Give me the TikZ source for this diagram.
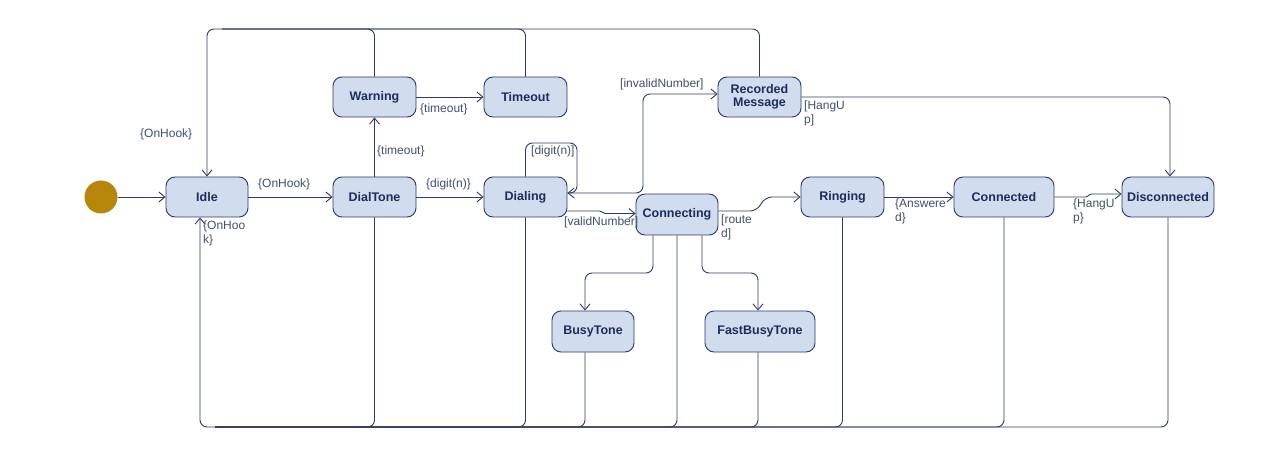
\documentclass[tikz,border=0pt]{standalone}
\usepackage{fontspec}
\setmainfont{Liberation Sans}
\usetikzlibrary{arrows.meta}
\definecolor{nfill}{HTML}{D1DCEF}
\definecolor{nbord}{HTML}{2B3A67}
\definecolor{ntext}{HTML}{1E2D5A}
\definecolor{edgec}{HTML}{2F3C5E}
\definecolor{ltext}{HTML}{3F4F70}
\definecolor{initc}{HTML}{B8860B}
\tikzset{
  st/.style={draw=nbord, fill=nfill, rounded corners=9pt, line width=0.9pt, inner sep=0pt,
    minimum height=40pt, text=ntext, font=\fontsize{12.5}{14.5}\selectfont\bfseries, align=center},
  lbl/.style={text=ltext, inner sep=0pt, font=\fontsize{12}{14}\selectfont, align=left},
  tr/.style={draw=edgec, line width=0.9pt, rounded corners=7pt, -{Straight Barb[length=6pt,width=10pt]}},
  ln/.style={draw=edgec, line width=0.9pt, rounded corners=7pt},
}
\begin{document}
\begin{tikzpicture}[x=1pt,y=-1pt]
\useasboundingbox (0,0) rectangle (1280,449);
% states
\node[circle, fill=initc, minimum size=33pt, inner sep=0pt] (init) at (101,197) {};
\node[st, minimum width=82pt] (idle) at (207,197) {Idle};
\node[st, minimum width=83pt] (dialtone) at (374.5,197) {DialTone};
\node[st, minimum width=83pt] (dialing) at (525.5,197) {Dialing};
\node[st, minimum width=83pt] (warning) at (374.5,97) {Warning};
\node[st, minimum width=83pt] (timeout) at (525.5,97) {Timeout};
\node[st, minimum width=83pt] (recmsg) at (759.5,97) {Recorded\\[-1pt]Message};
\node[st, minimum width=82pt, minimum height=41pt] (connecting) at (677,214.5) {Connecting};
\node[st, minimum width=83pt] (ringing) at (842.5,197) {Ringing};
\node[st, minimum width=100pt] (connected) at (1004,197) {Connected};
\node[st, minimum width=92pt] (disconnected) at (1168,197) {Disconnected};
\node[st, minimum width=82pt, minimum height=41pt] (busytone) at (593,331.5) {BusyTone};
\node[st, minimum width=110pt, minimum height=41pt] (fastbusy) at (760,331.5) {FastBusyTone};
% helper coordinates
\coordinate (topL) at (207,29);
\coordinate (topE) at (222,29);
\coordinate (botL) at (200,427);
\coordinate (botE) at (215,427);
% transitions
\draw[tr] (init.east) -- (idle.west);
\draw[tr] (idle.east) -- (dialtone.west);
\draw[tr] (dialtone.east) -- (dialing.west);
\draw[tr] (dialtone.north) -- (warning.south);
\draw[tr] (warning.east) -- (timeout.west);
\draw[tr] (dialing.north) -- (525.5,143) -- (577,143) -- (577,193) -- (dialing.east |- 0,193);
\draw[tr] (dialing.east |- 0,193) -- (643,193) -- (643,94) -- (recmsg.west |- 0,94);
\draw[tr, rounded corners=1.5pt] (dialing.east |- 0,211) -- (601,211) -- (604,213.5) -- (connecting.west |- 0,213.5);
\draw[tr] (connecting.east |- 0,211) -- (757,211) -- (765,197) -- (ringing.west);
\draw[tr] (ringing.east) -- (connected.west);
\draw[tr, rounded corners=1.5pt] (connected.east) -- (1087,197) -- (1090,194) -- (disconnected.west |- 0,194);
\draw[tr] (recmsg.east) -- (1170,97) -- (disconnected.north -| 1170,0);
\draw[tr] (connecting.south -| 653,0) -- (653,273) -- (585,273) -- (busytone.north -| 585,0);
\draw[tr] (connecting.south -| 702,0) -- (702,273) -- (758,273) -- (fastbusy.north -| 758,0);
% to Idle from the top
\draw[ln] (warning.north) -- (374.5,29) -- (topE);
\draw[ln] (timeout.north) -- (525.5,29) -- (topE);
\draw[tr] (recmsg.north) -- (759.5,29) -- (topL) -- (idle.north);
% to Idle from the bottom
\draw[ln] (dialtone.south) -- (374.5,427) -- (botE);
\draw[ln] (dialing.south) -- (525.5,427) -- (botE);
\draw[ln] (busytone.south -| 585,0) -- (585,427) -- (botE);
\draw[ln] (connecting.south) -- (677,427) -- (botE);
\draw[ln] (fastbusy.south -| 758,0) -- (758,427) -- (botE);
\draw[ln] (ringing.south) -- (842.5,427) -- (botE);
\draw[ln] (connected.south) -- (1004,427) -- (botE);
\draw[tr] (disconnected.south) -- (1168,427) -- (botL) -- (idle.south -| botL);
% labels
\node[lbl, anchor=west] (l1) at (140,134) {\{OnHook\}};
\node[lbl, anchor=west] (l2) at (258,184) {\{OnHook\}};
\node[lbl, anchor=north west] (l3) at (203,221) {\{OnHoo\\k\}};
\node[lbl, anchor=west] (l4) at (377,151) {\{timeout\}};
\node[lbl, anchor=west] (l5) at (420,109) {\{timeout\}};
\node[lbl, anchor=west] (l6) at (426,184) {\{digit(n)\}};
\node[lbl, anchor=west] (l7) at (531,151) {[digit(n)]};
\node[lbl, anchor=west] (l8) at (620,84) {[invalidNumber]};
\node[lbl, anchor=north west] (l9) at (804,101) {[HangU\\p]};
\node[lbl, anchor=west] (l10) at (564,222) {[validNumber]};
\node[lbl, anchor=north west] (l11) at (721,215) {[route\\d]};
\node[lbl, anchor=north west] (l12) at (895,199) {\{Answere\\d\}};
\node[lbl, anchor=north west] (l13) at (1073,199) {\{HangU\\p\}};
\end{tikzpicture}
\end{document}
